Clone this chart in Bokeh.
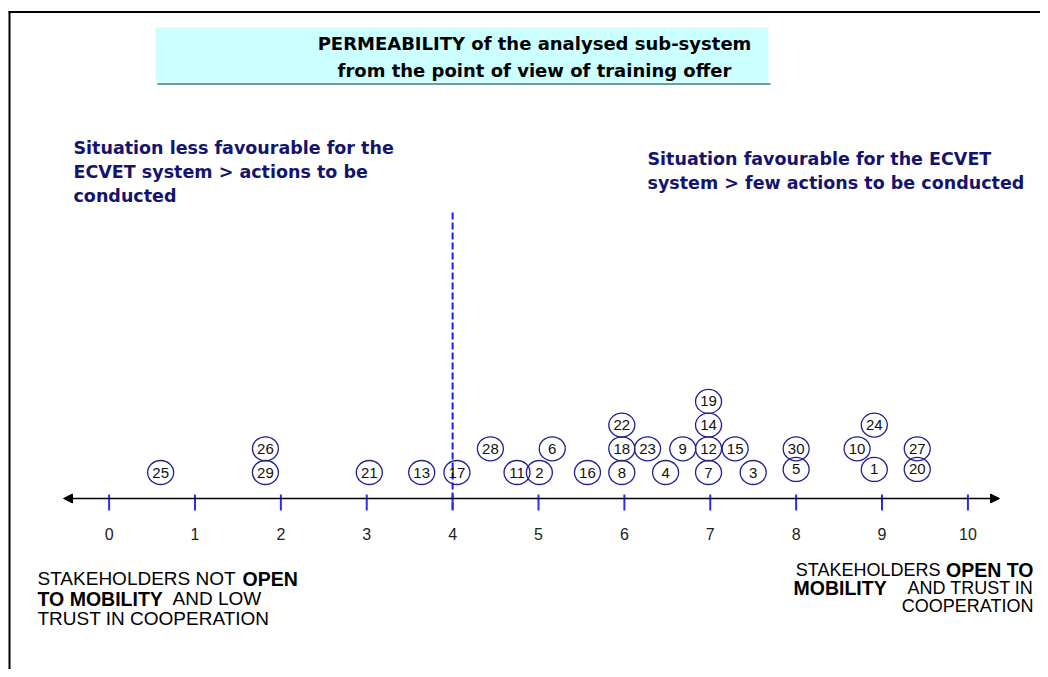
from bokeh.plotting import figure
from bokeh.models import Arrow, NormalHead
from bokeh.core.properties import value
from bokeh.embed import file_html
from bokeh.resources import INLINE

# ---------------- data ----------------
stakeholder_ids = [25, 26, 29, 21, 13, 17, 28, 11, 2, 6, 16, 8, 18, 22, 23,
                   4, 9, 12, 7, 14, 19, 15, 3, 30, 5, 10, 24, 1, 27, 20]
openness_scores = [0.60, 1.82, 1.82, 3.03, 3.64, 4.05, 4.44, 4.75, 5.01, 5.16,
                   5.57, 5.97, 5.97, 5.97, 6.27, 6.48, 6.68, 6.98, 6.98, 6.98,
                   6.98, 7.29, 7.50, 8.00, 8.00, 8.71, 8.91, 8.91, 9.41, 9.41]
stack_rows = [1, 2, 1, 1, 1, 1, 2, 1, 1, 2,
              1, 1, 2, 3, 2, 1, 2, 2, 1, 3,
              4, 2, 1, 2, 1.13, 2, 3, 1.13, 2, 1.13]
tick_values = [0, 1, 2, 3, 4, 5, 6, 7, 8, 9, 10]
tick_labels = ["0", "1", "2", "3", "4", "5", "6", "7", "8", "9", "10"]
threshold = 4

# ------------- pixel helpers (layout only) -------------
PX0, PXS = 108.6, 85.88
PY0, PYS = 472.0, 23.7


def X(px):
    return (px - PX0) / PXS


def Y(py):
    return 1 + (PY0 - py) / PYS


W, H = 1040, 669
p = figure(width=W, height=H, x_range=(X(0), X(W)), y_range=(Y(H), Y(0)),
           output_backend="svg", toolbar_location=None, title=None,
           x_axis_location=None, y_axis_location=None, min_border=0)
p.outline_line_color = None
p.background_fill_color = "white"
p.border_fill_color = "white"
p.grid.visible = False

NAVY = "#14146e"


def txt(px, py, s, size, bold=False, color="#000000", align="left", font="DejaVu Sans"):
    p.text(x=[X(px)], y=[Y(py)], text=[s], text_font=value(font),
           text_font_size=value(f"{size}px"),
           text_font_style="bold" if bold else "normal",
           text_color=color, text_align=align, text_baseline="middle")


# frame border (top and left)
p.segment(x0=[X(8)], y0=[Y(11.5)], x1=[X(W)], y1=[Y(11.5)], line_color="black", line_width=2)
p.segment(x0=[X(9)], y0=[Y(11)], x1=[X(9)], y1=[Y(H)], line_color="black", line_width=2)

# title box
p.quad(left=[X(155)], right=[X(768)], top=[Y(27)], bottom=[Y(82)],
       fill_color="#ccffff", line_color=None)
p.segment(x0=[X(157)], y0=[Y(83.5)], x1=[X(770)], y1=[Y(83.5)], line_color="#6a9fa0", line_width=2)
txt(534, 43, "PERMEABILITY of the analysed sub-system", 18, bold=True, align="center")
txt(534, 70, "from the point of view of training offer", 18, bold=True, align="center")

# headings
txt(73, 147, "Situation less favourable for the", 17.5, bold=True, color=NAVY)
txt(73, 171, "ECVET system > actions to be", 17.5, bold=True, color=NAVY)
txt(73, 195, "conducted", 17.5, bold=True, color=NAVY)
txt(647, 158, "Situation favourable for the ECVET", 17.5, bold=True, color=NAVY)
txt(647, 182, "system > few actions to be conducted", 17.5, bold=True, color=NAVY)

# threshold dashed line
p.segment(x0=[threshold], y0=[Y(212)], x1=[threshold], y1=[Y(510)],
          line_color="#1a1aff", line_width=2, line_dash="7 3")

# axis line with arrows
p.add_layout(Arrow(start=NormalHead(size=9, fill_color="black", line_color="black"),
                   end=NormalHead(size=9, fill_color="black", line_color="black"),
                   x_start=X(63), x_end=X(999), y_start=Y(498), y_end=Y(498),
                   line_color="black", line_width=1.5))
p.segment(x0=tick_values, y0=[Y(494)] * len(tick_values), x1=tick_values,
          y1=[Y(510)] * len(tick_values), line_color="#2a2aff", line_width=2)
p.text(x=tick_values, y=[Y(533)] * len(tick_values), text=tick_labels,
       text_font=value("Liberation Sans"), text_font_size=value("16px"),
       text_color="#222222", text_align="center", text_baseline="middle")

# stakeholder circles
p.ellipse(x=openness_scores, y=stack_rows, width=26, height=24,
          width_units="screen", height_units="screen",
          fill_color=None, line_color="#1f1f8f", line_width=1.3)
p.text(x=openness_scores, y=stack_rows, text=[str(i) for i in stakeholder_ids],
       text_font=value("Liberation Sans"), text_font_size=value("15px"),
       text_color="#111111", text_align="center", text_baseline="middle")

# bottom captions
LS = "Liberation Sans"
txt(37, 578, "STAKEHOLDERS NOT", 19, font=LS)
txt(242, 578, "OPEN", 19.5, bold=True, font=LS)
txt(37, 598, "TO MOBILITY", 19.5, bold=True, font=LS)
txt(172, 598, "AND LOW", 19, font=LS)
txt(37, 618, "TRUST IN COOPERATION", 19, font=LS)

txt(940, 569, "STAKEHOLDERS", 18, font=LS, align="right")
txt(1033, 569, "OPEN TO", 19.5, bold=True, font=LS, align="right")
txt(793, 587, "MOBILITY", 19.5, bold=True, font=LS)
txt(1033, 587, "AND TRUST IN", 18, font=LS, align="right")
txt(1033, 605, "COOPERATION", 18, font=LS, align="right")

open("out.html", "w").write(file_html(p, INLINE))
